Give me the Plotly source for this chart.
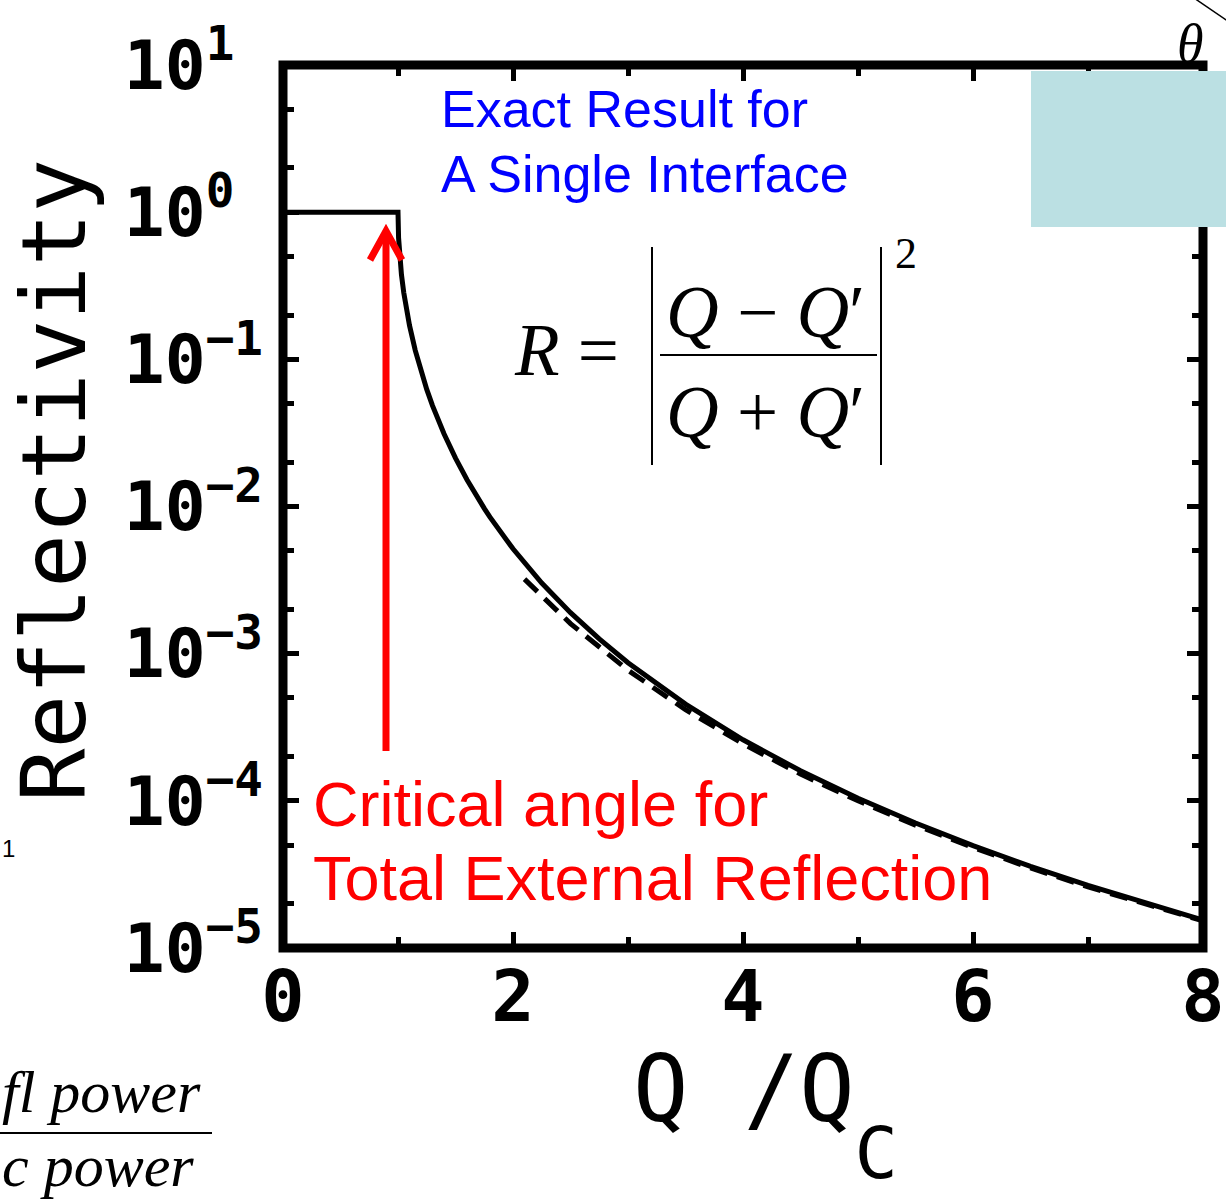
import plotly.graph_objects as go

# Reflectivity of a single ideal interface versus Q/Qc
q_exact = [0.0, 0.5, 1.0, 1.005, 1.01, 1.02, 1.03, 1.05, 1.07, 1.1, 1.15, 1.2, 1.25,
           1.3, 1.4, 1.5, 1.6, 1.75, 1.8, 2.0, 2.25, 2.5, 2.75, 3.0, 3.5, 4.0,
           4.5, 5.0, 5.5, 6.0, 6.5, 7.0, 7.5, 8.0]
r_exact = [1.0, 1.0, 1.0, 0.67, 0.568, 0.45, 0.376, 0.284, 0.226, 0.170, 0.115, 0.0831, 0.0625,
           0.0485, 0.0312, 0.0213, 0.0152, 0.00971, 0.00846, 0.00516, 0.00302, 0.00190, 0.00126, 8.67e-4, 4.54e-4, 2.60e-4,
           1.60e-4, 1.04e-4, 7.07e-5, 4.96e-5, 3.59e-5, 2.66e-5, 2.01e-5, 1.55e-5]

# Large-Q asymptote, drawn dashed
q_asym = [2.1, 2.5, 3.0, 3.5, 4.0, 4.5, 5.0, 5.5, 6.0, 6.5, 7.0, 7.5, 8.0]
r_asym = [3.21e-3, 1.60e-3, 7.72e-4, 4.16e-4, 2.44e-4, 1.52e-4, 1.0e-4, 6.83e-5, 4.82e-5,
          3.50e-5, 2.60e-5, 1.98e-5, 1.53e-5]

x_ticks = [0, 2, 4, 6, 8]
x_minor = [1, 3, 5, 7]
y_ticks = [1e-5, 1e-4, 1e-3, 1e-2, 1e-1, 1e0, 1e1]
y_labels = ["10<sup>\u22125</sup>", "10<sup>\u22124</sup>", "10<sup>\u22123</sup>",
            "10<sup>\u22122</sup>", "10<sup>\u22121</sup>",
            "10<sup>0\u00a0</sup>", "10<sup>1\u00a0</sup>"]
y_minor = [m * 10.0 ** e for e in range(-5, 1) for m in (2, 5)]

W, H = 1226, 1201
L, R, T, B = 283, 1203, 65, 948


def fx(px):
    return (px - L) / (R - L)


def fy(py):
    return (B - py) / (B - T)


mono = "DejaVu Sans Mono"
serif = "Liberation Serif"
sans = "Liberation Sans"

fig = go.Figure()
fig.add_trace(go.Scatter(x=q_asym, y=r_asym, mode="lines",
                         line=dict(color="black", width=5, dash="18px,10px"),
                         showlegend=False, hoverinfo="skip"))
fig.add_trace(go.Scatter(x=q_exact, y=r_exact, mode="lines",
                         line=dict(color="black", width=5),
                         showlegend=False, hoverinfo="skip"))

axis_common = dict(ticks="inside", tickcolor="black", tickwidth=5, mirror="ticks",
                   showgrid=False, zeroline=False, showline=False, automargin=False)

fig.update_xaxes(range=[0, 8], tickvals=x_ticks, ticktext=[str(v) for v in x_ticks],
                 ticklen=16,
                 tickfont=dict(family=mono, size=72, color="black", weight="bold"),
                 ticklabelstandoff=0,
                 minor=dict(tickvals=x_minor, ticks="inside", ticklen=11, tickwidth=5,
                            tickcolor="black"),
                 **axis_common)
fig.update_yaxes(type="log", range=[-5, 1], tickvals=y_ticks, ticktext=y_labels,
                 ticklen=16,
                 tickfont=dict(family=mono, size=68, color="black", weight="bold"),
                 ticklabelstandoff=19,
                 minor=dict(tickvals=y_minor, ticks="inside", ticklen=11, tickwidth=5,
                            tickcolor="black"),
                 **axis_common)

shapes = [
    # plot frame
    dict(type="rect", xref="paper", yref="paper", x0=0, x1=1, y0=0, y1=1,
         line=dict(color="black", width=9), layer="above"),
    # light blue panel in the corner
    dict(type="rect", xref="paper", yref="paper", x0=fx(1031), x1=fx(1240),
         y0=fy(227), y1=fy(71), fillcolor="#BBE0E3", line=dict(width=0), layer="above"),
    # thin line near the theta label
    dict(type="line", xref="paper", yref="paper", x0=fx(1194), y0=fy(-2),
         x1=fx(1232), y1=fy(24), line=dict(color="black", width=1.5), layer="above"),
    # red arrow shaft and head
    dict(type="line", xref="paper", yref="paper", x0=fx(386), y0=fy(751),
         x1=fx(386), y1=fy(234), line=dict(color="#FF0000", width=7), layer="above"),
    dict(type="path", xref="paper", yref="paper",
         path=f"M {fx(370)},{fy(260)} L {fx(386)},{fy(231)} L {fx(402)},{fy(260)}",
         line=dict(color="#FF0000", width=7), layer="above"),
    # formula: fraction bar and absolute-value bars
    dict(type="line", xref="paper", yref="paper", x0=fx(660), y0=fy(355),
         x1=fx(877), y1=fy(355), line=dict(color="black", width=2), layer="above"),
    dict(type="line", xref="paper", yref="paper", x0=fx(652), y0=fy(247),
         x1=fx(652), y1=fy(465), line=dict(color="black", width=2), layer="above"),
    dict(type="line", xref="paper", yref="paper", x0=fx(881), y0=fy(247),
         x1=fx(881), y1=fy(465), line=dict(color="black", width=2), layer="above"),
    # fraction line of the power ratio at the bottom left
    dict(type="line", xref="paper", yref="paper", x0=fx(-5), y0=fy(1133),
         x1=fx(212), y1=fy(1133), line=dict(color="black", width=2), layer="above"),
]


def note(text, x, y, size, family, color="black", xanchor="left", yanchor="middle",
         angle=0):
    return dict(text=text, x=fx(x), y=fy(y), xref="paper", yref="paper",
                xanchor=xanchor, yanchor=yanchor, showarrow=False, textangle=angle,
                font=dict(family=family, size=size, color=color))


# x-axis title with a deep subscript: the outer span sets the em used by the
# two nested sub shifts, the inner span sets the glyph size of the subscript
x_title = ("Q /Q<span style=\"font-size:160px\"><sub><sub>"
           "<span style=\"font-size:72px\">C</span></sub></sub></span>")

annotations = [
    note(x_title, 631, 1034, 92, mono, yanchor="top"),
    note("Reflectivity", 108, 481, 89, mono, xanchor="right", angle=-90),
    note("Exact Result for", 439, 109, 52, sans, "#0000FF"),
    note("A Single Interface", 439, 174, 52, sans, "#0000FF"),
    note("Critical angle for", 311, 804, 63, sans, "#FF0000"),
    note("Total External Reflection", 311, 878, 63, sans, "#FF0000"),
    note("<i>R</i> =", 512, 350, 73, serif),
    note("<i>Q</i> \u2212 <i>Q</i>\u2032", 765, 312, 73, serif, xanchor="center"),
    note("<i>Q</i> + <i>Q</i>\u2032", 765, 412, 73, serif, xanchor="center"),
    note("2", 893, 253, 44, serif),
    note("<i>\u03b8</i>", 1190, 44, 54, serif, xanchor="center"),
    note("1", 8, 848, 24, sans, xanchor="center"),
    note("<i>fl power</i>", 0, 1092, 60, serif),
    note("<i>c power</i>", 0, 1166, 60, serif),
]

fig.update_layout(width=W, height=H, margin=dict(l=L, r=W - R, t=T, b=H - B),
                  paper_bgcolor="white", plot_bgcolor="white",
                  shapes=shapes, annotations=annotations, showlegend=False)

fig.write_html("out.html")
